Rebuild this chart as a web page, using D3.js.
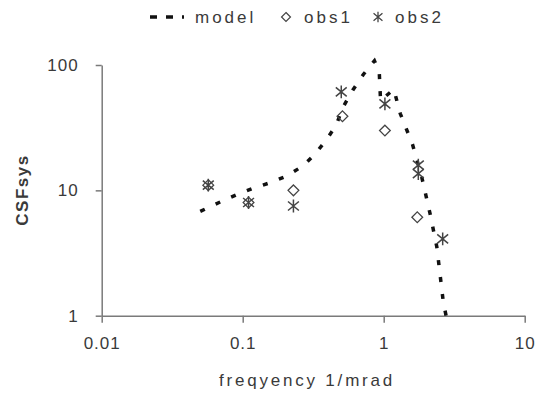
<!DOCTYPE html>
<html>
  <head>
    <title>CSFsys</title>
    <script src="https://d3js.org/d3.v7.min.js"></script>
    <style>
      body { margin: 0; background: #fff; }
      text { font-family: "Liberation Sans", Arial, sans-serif; fill: #3a3a3a; }
    </style>
  </head>
  <body>
    <svg width="538" height="413" id="chart"></svg>
  </body>

  <script type="text/javascript">
    // model curve
    var modelFreq = [0.05, 0.068, 0.09, 0.119, 0.156, 0.205, 0.266, 0.326, 0.394, 0.459, 0.517, 0.603, 0.717, 0.86, 0.93, 0.95, 1.18, 1.31, 1.6, 1.86, 2.13, 2.38, 2.65, 2.77];
    var modelCsf  = [6.8, 8.0, 9.2, 10.4, 11.5, 13.0, 15.6, 19.5, 25.5, 33, 46.5, 63, 84, 108, 88, 52, 64, 41, 23.3, 12.8, 6.55, 3.55, 1.27, 1.0];

    // observations
    var obs1Freq = [0.057, 0.11, 0.229, 0.51, 1.02, 1.73];
    var obs1Csf  = [11, 8, 10, 39, 30, 6.1];
    var obs2Freq = [0.057, 0.11, 0.229, 0.50, 1.02, 1.76, 1.76, 2.62];
    var obs2Csf  = [11, 8, 7.5, 61, 49, 15.9, 13.6, 4.1];

    var xTicks = [0.01, 0.1, 1, 10];
    var yTicks = [1, 10, 100];

    var svg = d3.select("#chart");

    var x = d3.scaleLog().domain([0.01, 10]).range([101.7, 524.7]);
    var y = d3.scaleLog().domain([1, 100]).range([315.7, 65]);

    // custom marker shapes
    var diamond = {
      draw: function(ctx, size) {
        var r = Math.sqrt(size) / 2;
        ctx.moveTo(0, -r); ctx.lineTo(r, 0); ctx.lineTo(0, r); ctx.lineTo(-r, 0); ctx.closePath();
      }
    };
    var star = {
      draw: function(ctx, size) {
        var r = Math.sqrt(size) / 2;
        var a = r * 0.85, b = r * 0.7;
        ctx.moveTo(0, -r); ctx.lineTo(0, r);
        ctx.moveTo(-a, -b); ctx.lineTo(a, b);
        ctx.moveTo(-a, b); ctx.lineTo(a, -b);
      }
    };

    // axes
    var xAxis = d3.axisBottom(x).tickValues(xTicks).tickSize(7).tickSizeOuter(0).tickPadding(14)
      .tickFormat(function(d){ return String(d); });
    var yAxis = d3.axisLeft(y).tickValues(yTicks).tickSize(6).tickSizeOuter(0).tickPadding(17)
      .tickFormat(function(d){ return String(d); });

    var gx = svg.append("g").attr("transform", "translate(0,315.7)").call(xAxis);
    var gy = svg.append("g").attr("transform", "translate(101.7,0)").call(yAxis);

    [gx, gy].forEach(function(g) {
      g.selectAll("path, line").attr("stroke", "#7a7a7a").attr("stroke-width", 1.5);
      g.selectAll("text").style("font-size", "17px").style("letter-spacing", "1px")
        .attr("fill", "#3a3a3a");
    });

    svg.append("text")
      .attr("x", 307).attr("y", 386)
      .attr("text-anchor", "middle")
      .style("font-size", "17px").style("letter-spacing", "2.8px")
      .text("freqyency 1/mrad");

    svg.append("text")
      .attr("transform", "translate(28,190) rotate(-90)")
      .attr("text-anchor", "middle")
      .style("font-size", "17px").style("font-weight", "bold").style("letter-spacing", "1.5px")
      .text("CSFsys");

    // model line
    var model = modelFreq.map(function(f, i){ return [f, modelCsf[i]]; });
    var line = d3.line()
      .x(function(d){ return x(d[0]); })
      .y(function(d){ return y(d[1]); });

    svg.append("path")
      .attr("d", line(model))
      .attr("fill", "none")
      .attr("stroke", "#111")
      .attr("stroke-width", 3.5)
      .attr("stroke-dasharray", "5,12");

    // obs markers
    svg.selectAll(".obs1").data(obs1Freq).enter().append("path")
      .attr("class", "obs1")
      .attr("transform", function(d, i){ return "translate(" + x(d) + "," + y(obs1Csf[i]) + ")"; })
      .attr("d", d3.symbol().type(diamond).size(115))
      .attr("fill", "none").attr("stroke", "#444").attr("stroke-width", 1.3);

    svg.selectAll(".obs2").data(obs2Freq).enter().append("path")
      .attr("class", "obs2")
      .attr("transform", function(d, i){ return "translate(" + x(d) + "," + y(obs2Csf[i]) + ")"; })
      .attr("d", d3.symbol().type(star).size(165))
      .attr("fill", "none").attr("stroke", "#444").attr("stroke-width", 1.5);

    // legend
    var lg = svg.append("g");
    lg.append("line").attr("x1", 150).attr("x2", 184).attr("y1", 17).attr("y2", 17)
      .attr("stroke", "#111").attr("stroke-width", 3.5).attr("stroke-dasharray", "7,9");
    lg.append("text").attr("x", 195).attr("y", 23).style("font-size", "17px").style("letter-spacing", "3px").text("model");
    lg.append("path").attr("transform", "translate(286,17)")
      .attr("d", d3.symbol().type(diamond).size(80))
      .attr("fill", "none").attr("stroke", "#444").attr("stroke-width", 1.2);
    lg.append("text").attr("x", 304).attr("y", 23).style("font-size", "17px").style("letter-spacing", "3px").text("obs1");
    lg.append("path").attr("transform", "translate(378,17)")
      .attr("d", d3.symbol().type(star).size(110))
      .attr("fill", "none").attr("stroke", "#444").attr("stroke-width", 1.3);
    lg.append("text").attr("x", 395).attr("y", 23).style("font-size", "17px").style("letter-spacing", "3px").text("obs2");
  </script>
</html>
